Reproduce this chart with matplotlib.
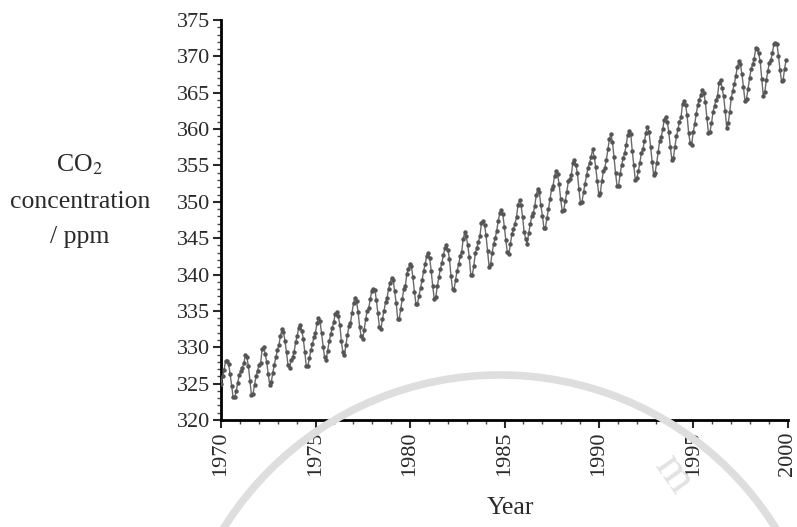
import numpy as np
import matplotlib
matplotlib.use('Agg')
import matplotlib.pyplot as plt
from matplotlib.patches import Arc
from matplotlib.ticker import MultipleLocator

plt.rcParams['font.family'] = 'Liberation Serif'
plt.rcParams['mathtext.fontset'] = 'stix'

# monthly CO2 (ppm), one row per year, Jan..Dec
co2_1970 = [325.0, 326.0, 326.9, 328.1, 328.1, 327.7, 326.3, 324.7, 323.1, 323.1, 324.0, 325.1]
co2_1971 = [326.2, 326.7, 327.2, 327.8, 328.9, 328.6, 327.4, 325.4, 323.4, 323.6, 324.8, 326.0]
co2_1972 = [326.8, 327.6, 327.8, 329.7, 330.1, 329.1, 328.0, 326.3, 324.8, 325.2, 326.5, 327.6]
co2_1973 = [328.6, 329.6, 330.3, 331.5, 332.5, 332.1, 330.9, 329.3, 327.5, 327.2, 328.2, 328.6]
co2_1974 = [329.4, 330.7, 331.5, 332.7, 333.1, 332.3, 331.2, 329.4, 327.4, 327.4, 328.5, 329.6]
co2_1975 = [330.4, 331.4, 332.0, 333.3, 334.0, 333.6, 331.9, 330.1, 328.6, 328.3, 329.5, 330.8]
co2_1976 = [331.8, 332.6, 333.5, 334.6, 334.9, 334.3, 333.1, 330.9, 329.3, 328.9, 330.3, 331.7]
co2_1977 = [332.9, 333.4, 334.7, 336.1, 336.8, 336.3, 334.9, 332.8, 331.6, 331.2, 332.4, 333.9]
co2_1978 = [335.0, 335.4, 336.6, 337.8, 338.0, 337.9, 336.5, 334.7, 332.8, 332.5, 333.9, 335.0]
co2_1979 = [336.2, 336.8, 338.0, 338.9, 339.5, 339.3, 337.7, 336.1, 333.9, 333.9, 335.3, 336.7]
co2_1980 = [338.0, 338.4, 340.1, 340.8, 341.5, 341.2, 339.6, 337.6, 335.9, 336.0, 337.1, 338.2]
co2_1981 = [339.2, 340.5, 341.4, 342.5, 342.9, 342.3, 340.5, 338.4, 336.7, 336.9, 338.4, 339.6]
co2_1982 = [340.8, 341.6, 342.7, 343.6, 344.1, 343.4, 342.1, 339.8, 338.0, 337.9, 339.3, 340.5]
co2_1983 = [341.4, 342.5, 343.1, 344.9, 345.8, 345.3, 344.0, 342.4, 339.9, 340.0, 341.2, 343.0]
co2_1984 = [343.7, 344.5, 345.3, 347.1, 347.4, 346.8, 345.4, 343.3, 341.1, 341.4, 343.0, 344.2]
co2_1985 = [345.0, 346.0, 347.4, 348.4, 348.9, 348.3, 346.6, 344.7, 343.1, 342.8, 344.2, 345.6]
co2_1986 = [346.3, 347.0, 347.9, 349.6, 350.2, 349.5, 347.9, 345.9, 344.9, 344.2, 345.7, 346.9]
co2_1987 = [348.0, 348.5, 349.4, 351.0, 351.8, 351.3, 349.5, 348.1, 346.4, 346.4, 347.8, 349.0]
co2_1988 = [350.4, 351.7, 352.2, 353.6, 354.2, 353.8, 352.4, 350.4, 348.7, 348.9, 350.1, 351.3]
co2_1989 = [352.8, 353.1, 353.7, 355.4, 355.7, 355.1, 353.9, 351.7, 349.8, 350.0, 351.3, 352.5]
co2_1990 = [353.7, 354.7, 355.4, 356.2, 357.2, 356.2, 354.8, 352.9, 351.0, 351.2, 352.8, 354.2]
co2_1991 = [354.7, 355.8, 357.2, 358.6, 359.3, 358.2, 356.2, 354.0, 352.2, 352.2, 353.8, 355.0]
co2_1992 = [356.0, 356.7, 357.8, 359.2, 359.7, 359.3, 357.0, 355.0, 353.0, 353.3, 354.2, 355.4]
co2_1993 = [356.7, 357.2, 358.4, 359.5, 360.3, 359.6, 357.6, 355.5, 353.7, 354.0, 355.3, 356.8]
co2_1994 = [358.4, 358.9, 360.0, 361.3, 361.7, 361.0, 359.6, 357.5, 355.8, 356.0, 357.6, 359.0]
co2_1995 = [360.0, 361.0, 361.6, 363.5, 363.8, 363.3, 361.9, 359.5, 358.1, 357.8, 359.6, 360.7]
co2_1996 = [362.1, 363.3, 364.0, 364.7, 365.4, 365.0, 363.7, 361.5, 359.5, 359.6, 360.8, 362.3]
co2_1997 = [363.2, 364.0, 364.6, 366.4, 366.8, 365.6, 364.5, 362.5, 360.2, 360.8, 362.4, 364.3]
co2_1998 = [365.3, 366.2, 367.3, 368.6, 369.3, 368.9, 367.6, 365.8, 363.9, 364.2, 365.5, 367.0]
co2_1999 = [368.2, 368.9, 369.6, 371.1, 371.0, 370.4, 369.3, 366.9, 364.6, 365.1, 366.7, 368.0]
co2_2000 = [369.1, 369.5, 370.5, 371.7, 371.8, 371.7, 370.1, 368.1, 366.6, 366.7, 368.3, 369.5]

co2 = (co2_1970 + co2_1971 + co2_1972 + co2_1973 + co2_1974 + co2_1975 + co2_1976
       + co2_1977 + co2_1978 + co2_1979 + co2_1980 + co2_1981 + co2_1982 + co2_1983
       + co2_1984 + co2_1985 + co2_1986 + co2_1987 + co2_1988 + co2_1989 + co2_1990
       + co2_1991 + co2_1992 + co2_1993 + co2_1994 + co2_1995 + co2_1996 + co2_1997
       + co2_1998 + co2_1999 + co2_2000)

# the original squeezes the 31 years of months onto the 1970-2000 axis
t = np.linspace(1970, 1999.9, len(co2))

fig = plt.figure(figsize=(7.97, 5.27), dpi=100)
ax = fig.add_axes([0.2773, 0.203, 0.7114, 0.759])

# faint watermark behind the chart
fig.patches.append(Arc((0.627, -0.328), 0.816, 1.233, theta1=0, theta2=180,
                       transform=fig.transFigure, color='#dedede', lw=5.5, zorder=0))
fig.text(0.845, 0.10, 'm', fontsize=34, color='#e2e2e2', rotation=-55,
         ha='center', va='center', zorder=0)

ax.plot(t, co2, color='#6a6a6a', lw=1.0, marker='o', ms=2.2,
        mfc='#555555', mec='#555555', zorder=3)

ax.set_xlim(1970, 2000)
ax.set_ylim(320, 375)
ax.xaxis.set_major_locator(MultipleLocator(5))
ax.xaxis.set_minor_locator(MultipleLocator(1))
ax.yaxis.set_major_locator(MultipleLocator(5))
ax.yaxis.set_minor_locator(MultipleLocator(1))
ax.spines['top'].set_visible(False)
ax.spines['right'].set_visible(False)
ax.spines['left'].set_linewidth(2)
ax.spines['bottom'].set_linewidth(2)
ax.tick_params(which='major', direction='out', length=6, width=1.5,
               labelsize=16, colors='#2a2a2a', pad=2)
ax.tick_params(which='minor', direction='out', length=3, width=1, colors='#444444')
plt.setp(ax.get_xticklabels(), rotation=90)
ax.patch.set_alpha(0)

fig.text(0.100, 0.687, 'CO$_2$', ha='center', va='center', fontsize=18.5, color='#2a2a2a')
fig.text(0.100, 0.617, 'concentration', ha='center', va='center', fontsize=18.5, color='#2a2a2a')
fig.text(0.100, 0.550, '/ ppm', ha='center', va='center', fontsize=18.5, color='#2a2a2a')
fig.text(0.641, 0.036, 'Year', ha='center', va='center', fontsize=18.5, color='#2a2a2a')

fig.savefig('out.png', dpi=100)
